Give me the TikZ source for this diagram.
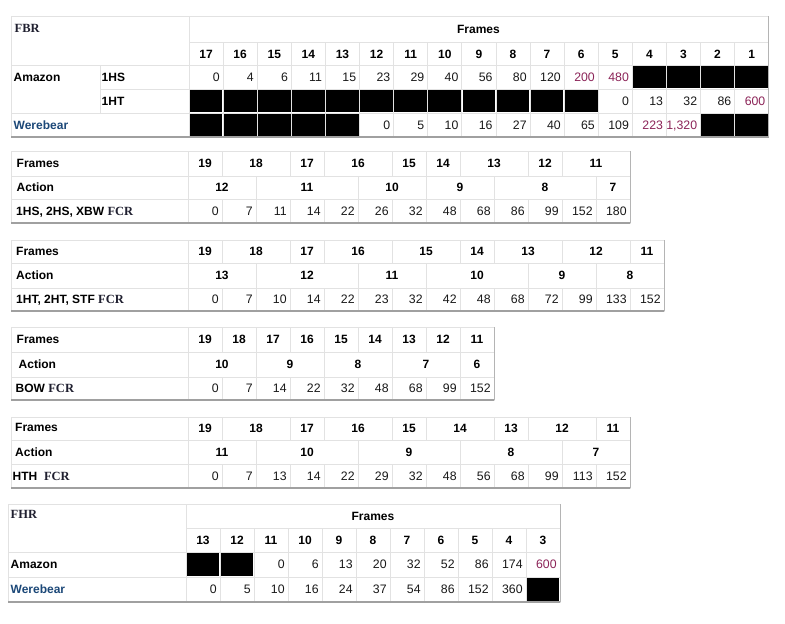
\documentclass[tikz,border=0pt]{standalone}
\usepackage{fontspec}
\setmainfont{Liberation Sans}
\newfontfamily\serifbold{Liberation Serif}
\definecolor{gridc}{RGB}{226,226,226}
\definecolor{shadb}{RGB}{160,160,160}
\definecolor{shadr}{RGB}{180,180,180}
\definecolor{numc}{RGB}{25,25,25}
\definecolor{redv}{RGB}{140,36,88}
\definecolor{werec}{RGB}{28,72,120}
\definecolor{serc}{RGB}{32,32,48}
\newcommand\R[1]{\textcolor{redv}{#1}}
\newcommand\FC[1]{{\serifbold\bfseries\fontsize{12.5}{14}\selectfont\color{serc}#1}}
% span row: #1 xstart, #2 ytop, #3 ybot, #4 prefix, #5 list label/span, #6 col width
\newcommand\spanrow[6]{%
  \gdef\cum{0}%
  \foreach \lab/\n [count=\i] in {#5}{%
    \pgfmathsetmacro\xa{#1+\cum*#6}%
    \pgfmathsetmacro\newcum{\cum+\n}%
    \xdef\cum{\newcum}%
    \pgfmathsetmacro\xb{#1+\cum*#6}%
    \draw[grid] (\xb,#2) -- (\xb,#3);
    \node[hdr] (#4-\i) at ({(\xa+\xb)/2},{(#2+#3)/2}) {\lab};
  }}
% value row: #1 xstart, #2 ytop, #3 ybot, #4 prefix, #5 cols skipped, #6 list, #7 col width
\newcommand\valrow[7]{%
  \foreach \v [count=\i] in {#6}{%
    \pgfmathsetmacro\xb{#1+(\i+#5)*#7}%
    \node[num] (#4-\i) at (\xb-3.2,{(#2+#3)/2}) {\v};
  }}
% black cells: #1 xstart, #2 ytop, #3 ybot, #4 from, #5 to, #6 width
\newcommand\blk[6]{%
  \foreach \k in {#4,...,#5}{%
    \fill[black] ({#1+(\k-1)*#6+0.7},{#2+0.7}) rectangle ({#1+\k*#6-0.7},{#3-0.7});
  }}
% vertical grid: #1 xstart, #2 ytop, #3 ybot, #4 ncols, #5 width
\newcommand\vgrid[5]{%
  \foreach \k in {1,...,#4}{%
    \draw[grid] ({#1+\k*#5},#2) -- ({#1+\k*#5},#3);
  }}
\begin{document}
\begin{tikzpicture}[x=1pt,y=-1pt,
  grid/.style={draw=gridc,line width=0.8pt},
  shb/.style={draw=shadb,line width=1.4pt},
  shr/.style={draw=shadr,line width=1pt},
  num/.style={anchor=east,inner sep=0pt,text height=8.6pt,text depth=0pt,text=numc,font=\fontsize{12.3}{14}\selectfont},
  hdr/.style={inner sep=0pt,text height=8.6pt,text depth=0pt,font=\fontsize{12}{14}\selectfont\bfseries},
  lab/.style={hdr,anchor=west},
  were/.style={lab,text=werec}]
\useasboundingbox (0,0) rectangle (785,624);
\fill[white] (0,0) rectangle (785,624);

% ================= Table 1: FBR =================
\def\w{34.1}
\draw[grid] (11,16) rectangle (768.7,137);
\draw[grid] (189,16) -- (189,137);
\draw[grid] (189,42) -- (768.7,42);
\draw[grid] (11,65) -- (768.7,65);
\draw[grid] (100,89) -- (768.7,89);
\draw[grid] (11,113) -- (768.7,113);
\draw[grid] (100,65) -- (100,113);
\vgrid{189}{42}{137}{16}{\w}
\blk{189}{65}{89}{14}{17}{\w}
\blk{189}{89}{113}{1}{12}{\w}
\blk{189}{113}{137}{1}{5}{\w}
\blk{189}{113}{137}{16}{17}{\w}
\draw[shb] (11,137) -- (768.7,137);
\draw[shr] (768.7,16) -- (768.7,137);
\node[lab,anchor=west] (fbr) at (14.5,28.5) {\FC{FBR}};
\node[hdr] (fbrframes) at (478.5,29.5) {Frames};
\foreach \f [count=\i] in {17,16,...,1}{%
  \node[hdr] (fbrh-\i) at ({189+\i*\w-\w/2},53.8) {\f};}
\node[lab] (amz1) at (13.5,77) {Amazon};
\node[lab] (hs1) at (101.5,77) {1HS};
\node[lab] (ht1) at (101.5,101) {1HT};
\node[were] (wb1) at (13.5,125) {Werebear};
\valrow{189}{65}{89}{fbrhs}{0}{0,4,6,11,15,23,29,40,56,80,120,\R{200},\R{480}}{\w}
\valrow{189}{89}{113}{fbrht}{12}{0,13,32,86,\R{600}}{\w}
\valrow{189}{113}{137}{fbrwb}{5}{0,5,10,16,27,40,65,109,\R{223},\R{1,320}}{\w}

% ================= Table 2: 1HS FCR =================
\def\w{34}
\draw[grid] (11,151) rectangle (630,223);
\draw[grid] (188,151) -- (188,223);
\draw[grid] (11,176) -- (630,176);
\draw[grid] (11,199) -- (630,199);
\vgrid{188}{199}{223}{12}{\w}
\spanrow{188}{151}{176}{t2f}{19/1,18/2,17/1,16/2,15/1,14/1,13/2,12/1,11/2}{\w}
\spanrow{188}{176}{199}{t2a}{12/2,11/3,10/2,9/2,8/3,7/1}{\w}
\valrow{188}{199}{223}{t2v}{0}{0,7,11,14,22,26,32,48,68,86,99,152,180}{\w}
\draw[shb] (11,223) -- (630,223);
\draw[shr] (630,151) -- (630,223);
\node[lab] (t2l1) at (16.5,163) {Frames};
\node[lab] (t2l2) at (16.5,187) {Action};
\node[lab] (t2l3) at (16,211) {1HS, 2HS, XBW \FC{FCR}};

% ================= Table 3: 1HT FCR =================
\draw[grid] (11,240) rectangle (664,311);
\draw[grid] (188,240) -- (188,311);
\draw[grid] (11,263) -- (664,263);
\draw[grid] (11,288) -- (664,288);
\vgrid{188}{288}{311}{13}{\w}
\spanrow{188}{240}{263}{t3f}{19/1,18/2,17/1,16/2,15/2,14/1,13/2,12/2,11/1}{\w}
\spanrow{188}{263}{288}{t3a}{13/2,12/3,11/2,10/3,9/2,8/2}{\w}
\valrow{188}{288}{311}{t3v}{0}{0,7,10,14,22,23,32,42,48,68,72,99,133,152}{\w}
\draw[shb] (11,311) -- (664,311);
\draw[shr] (664,240) -- (664,311);
\node[lab] (t3l1) at (16,251.5) {Frames};
\node[lab] (t3l2) at (16,275.5) {Action};
\node[lab] (t3l3) at (16,299.5) {1HT, 2HT, STF \FC{FCR}};

% ================= Table 4: BOW FCR =================
\draw[grid] (11,327) rectangle (494,400);
\draw[grid] (188,327) -- (188,400);
\draw[grid] (11,352) -- (494,352);
\draw[grid] (11,377) -- (494,377);
\vgrid{188}{377}{400}{8}{\w}
\spanrow{188}{327}{352}{t4f}{19/1,18/1,17/1,16/1,15/1,14/1,13/1,12/1,11/1}{\w}
\spanrow{188}{352}{377}{t4a}{10/2,9/2,8/2,7/2,6/1}{\w}
\valrow{188}{377}{400}{t4v}{0}{0,7,14,22,32,48,68,99,152}{\w}
\draw[shb] (11,400) -- (494,400);
\draw[shr] (494,327) -- (494,400);
\node[lab] (t4l1) at (16.5,339.5) {Frames};
\node[lab] (t4l2) at (18.5,364.5) {Action};
\node[lab] (t4l3) at (15.5,388.5) {BOW \FC{FCR}};

% ================= Table 5: HTH FCR =================
\draw[grid] (11,417) rectangle (630,488);
\draw[grid] (188,417) -- (188,488);
\draw[grid] (11,440) -- (630,440);
\draw[grid] (11,464) -- (630,464);
\vgrid{188}{464}{488}{12}{\w}
\spanrow{188}{417}{440}{t5f}{19/1,18/2,17/1,16/2,15/1,14/2,13/1,12/2,11/1}{\w}
\spanrow{188}{440}{464}{t5a}{11/2,10/3,9/3,8/3,7/2}{\w}
\valrow{188}{464}{488}{t5v}{0}{0,7,13,14,22,29,32,48,56,68,99,113,152}{\w}
\draw[shb] (11,488) -- (630,488);
\draw[shr] (630,417) -- (630,488);
\node[lab] (t5l1) at (15,427.5) {Frames};
\node[lab] (t5l2) at (15,452) {Action};
\node[lab] (t5l3) at (12.5,476) {HTH\ \ \FC{FCR}};

% ================= Table 6: FHR =================
\draw[grid] (8,504) rectangle (560,602);
\draw[grid] (186,504) -- (186,602);
\draw[grid] (186,528) -- (560,528);
\draw[grid] (8,552) -- (560,552);
\draw[grid] (8,577) -- (560,577);
\vgrid{186}{528}{602}{10}{\w}
\blk{186}{552}{577}{1}{2}{\w}
\blk{186}{577}{602}{11}{11}{\w}
\draw[shb] (8,602) -- (560,602);
\draw[shr] (560,504) -- (560,602);
\node[lab] (fhr) at (10.5,514.5) {\FC{FHR}};
\node[hdr] (fhrframes) at (373,516.5) {Frames};
\foreach \f [count=\i] in {13,12,...,3}{%
  \node[hdr] (fhrh-\i) at ({186+\i*\w-\w/2},540) {\f};}
\node[lab] (amz6) at (10.5,564.5) {Amazon};
\node[were] (wb6) at (10.5,589.5) {Werebear};
\valrow{186}{552}{577}{fhra}{2}{0,6,13,20,32,52,86,174,\R{600}}{\w}
\valrow{186}{577}{602}{fhrw}{0}{0,5,10,16,24,37,54,86,152,360}{\w}
\end{tikzpicture}
\end{document}
